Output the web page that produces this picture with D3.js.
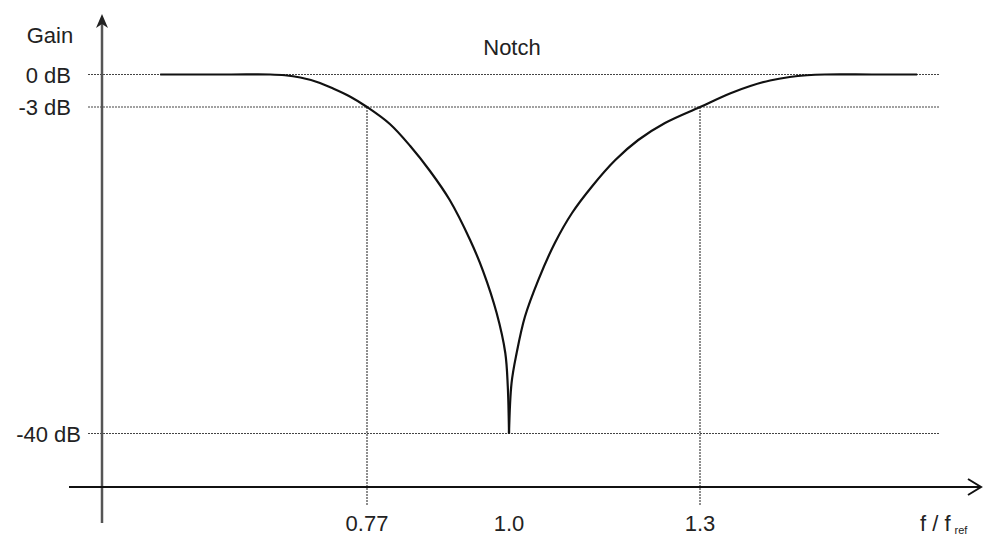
<!DOCTYPE html>
<html>
<head>
<meta charset="utf-8">
<script src="https://cdn.jsdelivr.net/npm/d3@7"></script>
<style>
  html, body { margin: 0; padding: 0; background: #fff; }
  svg { display: block; font-family: "Liberation Sans", Arial, sans-serif; }
</style>
</head>
<body>
<div id="chart"></div>
<script>
// frequency ratio f / f_ref and gain in dB
var freq = [0.435, 0.55, 0.613, 0.637, 0.662, 0.689, 0.715, 0.743, 0.77,
  0.807, 0.840, 0.872, 0.904, 0.937, 0.958, 0.980, 0.994, 0.998, 1.0,
  1.004, 1.012, 1.025, 1.046, 1.072, 1.099, 1.130, 1.167, 1.203, 1.245,
  1.3, 1.347, 1.379, 1.41, 1.441, 1.468, 1.496, 1.57, 1.641];
var gain = [0, 0, 0, -0.07, -0.28, -0.69, -1.29, -2.05, -3,
  -4.93, -7.42, -10.25, -13.54, -18.07, -21.59, -26.35, -30.88, -34.62, -40,
  -34.28, -30.88, -26.77, -22.61, -18.41, -15.01, -12.03, -9.01, -6.74, -4.81,
  -3, -1.75, -1.06, -0.55, -0.23, -0.07, 0, 0, 0];

var xTicks = [0.77, 1.0, 1.3];
var xTickLabels = ["0.77", "1.0", "1.3"];
var yTicks = [0, -3, -40];
var yTickLabels = ["0 dB", "-3 dB", "-40 dB"];
var title = "Notch";
var yTitle = "Gain";

var width = 987, height = 536;

// the sketch is not drawn to scale, so both scales are piecewise
var x = d3.scaleLinear().domain(xTicks).range([367, 509, 700]);
var y = d3.scaleLinear().domain(yTicks).range([74.5, 107, 433.5]);

var axisX = 102, axisY = 487;

var svg = d3.select("#chart").append("svg")
  .attr("width", width)
  .attr("height", height);

var dotted = { stroke: "#444", width: 1.2, dash: "2,1" };

// horizontal reference lines
svg.selectAll(".hline")
    .data(yTicks)
  .enter().append("line")
    .attr("class", "hline")
    .attr("x1", 88)
    .attr("x2", 940)
    .attr("y1", function(d) { return y(d); })
    .attr("y2", function(d) { return y(d); })
    .style("stroke", dotted.stroke)
    .style("stroke-width", dotted.width)
    .style("stroke-dasharray", dotted.dash);

// vertical lines at the -3 dB points
svg.selectAll(".vline")
    .data(xTicks.filter(function(d) { return d !== 1.0; }))
  .enter().append("line")
    .attr("class", "vline")
    .attr("x1", function(d) { return x(d); })
    .attr("x2", function(d) { return x(d); })
    .attr("y1", y(-3))
    .attr("y2", axisY + 19)
    .style("stroke", dotted.stroke)
    .style("stroke-width", dotted.width)
    .style("stroke-dasharray", dotted.dash);

// axes
svg.append("line")
  .attr("x1", axisX).attr("x2", axisX)
  .attr("y1", 20).attr("y2", 523)
  .style("stroke", "#555")
  .style("stroke-width", 2.5);

svg.append("path")
  .attr("d", "M" + axisX + ",14L" + (axisX - 6) + ",28L" + axisX + ",24L" + (axisX + 6) + ",28Z")
  .style("fill", "#222");

svg.append("line")
  .attr("x1", 69).attr("x2", 981)
  .attr("y1", axisY).attr("y2", axisY)
  .style("stroke", "#111")
  .style("stroke-width", 2);

svg.append("path")
  .attr("d", "M968,479L981," + axisY + "L968,495")
  .style("fill", "none")
  .style("stroke", "#111")
  .style("stroke-width", 2);

// curve, drawn as two branches meeting at the notch
var pts = freq.map(function(f, i) { return { f: f, g: gain[i] }; });
var iMin = d3.minIndex(pts, function(d) { return d.g; });

var line = d3.line()
  .x(function(d) { return x(d.f); })
  .y(function(d) { return y(d.g); })
  .curve(d3.curveCatmullRom.alpha(0.5));

[pts.slice(0, iMin + 1), pts.slice(iMin)].forEach(function(branch) {
  svg.append("path")
    .datum(branch)
    .attr("fill", "none")
    .style("stroke", "#111")
    .style("stroke-width", 2.2)
    .style("stroke-linejoin", "round")
    .attr("d", line);
});

// labels
var fontSize = "22px";

svg.selectAll(".ylabel")
    .data(yTicks)
  .enter().append("text")
    .attr("class", "ylabel")
    .attr("x", function(d) { return d === -40 ? 81 : 71; })
    .attr("y", function(d) { return y(d) + 8; })
    .attr("text-anchor", "end")
    .style("font-size", fontSize)
    .style("fill", "#222")
    .text(function(d, i) { return yTickLabels[i]; });

svg.selectAll(".xlabel")
    .data(xTicks)
  .enter().append("text")
    .attr("class", "xlabel")
    .attr("x", function(d) { return x(d); })
    .attr("y", 531)
    .attr("text-anchor", "middle")
    .style("font-size", fontSize)
    .style("fill", "#222")
    .text(function(d, i) { return xTickLabels[i]; });

svg.append("text")
  .attr("x", 50)
  .attr("y", 43)
  .attr("text-anchor", "middle")
  .style("font-size", fontSize)
  .style("fill", "#222")
  .text(yTitle);

svg.append("text")
  .attr("x", 512)
  .attr("y", 55)
  .attr("text-anchor", "middle")
  .style("font-size", fontSize)
  .style("fill", "#222")
  .text(title);

var xTitle = svg.append("text")
  .attr("x", 920)
  .attr("y", 531)
  .style("font-size", fontSize)
  .style("fill", "#222");
xTitle.append("tspan").text("f / f");
xTitle.append("tspan")
  .attr("dx", 4)
  .attr("dy", 3)
  .style("font-size", "11px")
  .text("ref");
</script>
</body>
</html>
